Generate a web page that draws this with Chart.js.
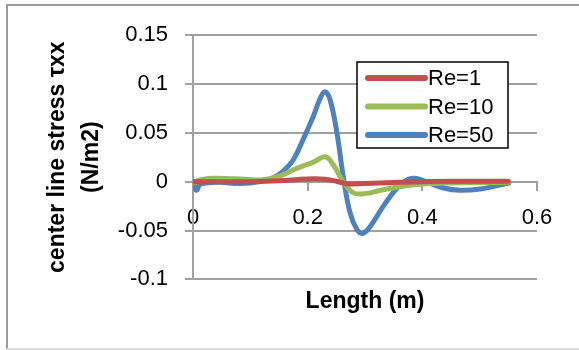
<!DOCTYPE html>
<html>
<head>
<meta charset="utf-8">
<script src="https://cdn.jsdelivr.net/npm/chart.js@4.4.1/dist/chart.umd.min.js"></script>
<style>
  html, body { margin: 0; padding: 0; background: #fff; }
  #wrap { position: relative; width: 579px; height: 350px; }
</style>
</head>
<body>
<div id="wrap"><canvas id="stressChart" width="579" height="350"></canvas></div>
<script>
// centre line stress along the channel, one curve per Reynolds number
const seriesNames = ["Re=1", "Re=10", "Re=50"];

const lengthRe1 = [0, 0.05, 0.1, 0.15, 0.2, 0.23, 0.25, 0.268, 0.3, 0.35, 0.4, 0.45, 0.55];
const stressRe1 = [0, 0, 0, 0.0008, 0.0027, 0.0025, 0.0004, -0.0022, -0.0018, -0.0008, 0, 0.0003, 0.0004];

const lengthRe10 = [0, 0.012, 0.035, 0.093, 0.122, 0.152, 0.181, 0.21, 0.231, 0.245, 0.262, 0.28, 0.303, 0.326, 0.385, 0.443, 0.551];
const stressRe10 = [-0.0013, 0.0017, 0.0034, 0.0024, 0.002, 0.006, 0.0136, 0.02, 0.0255, 0.017, 0, -0.0115, -0.012, -0.009, -0.0031, -0.0014, -0.0007];

const lengthRe50 = [0, 0.006, 0.012, 0.023, 0.047, 0.082, 0.117, 0.14, 0.157, 0.175, 0.192, 0.21, 0.221, 0.23, 0.239, 0.251, 0.262, 0.274, 0.286, 0.296, 0.309, 0.332, 0.356, 0.373, 0.387, 0.408, 0.437, 0.466, 0.501, 0.551];
const stressRe50 = [-0.0014, -0.0089, -0.003, -0.0014, -0.0007, -0.002, 0, 0.004, 0.0105, 0.0224, 0.043, 0.067, 0.084, 0.092, 0.084, 0.05, 0.0054, -0.032, -0.049, -0.053, -0.046, -0.025, -0.0065, 0.0017, 0.0034, -0.0004, -0.0065, -0.0089, -0.0075, -0.0014];

const xTicks = [0, 0.2, 0.4, 0.6];
const yTicks = [-0.1, -0.05, 0, 0.05, 0.1, 0.15];

const lineColors = ["#C0504D", "#9BBB59", "#4F81BD"];
const gridColor = "#a0a0a0";

function toPoints(xs, ys) {
  return xs.map((x, i) => ({ x: x, y: ys[i] }));
}

// plain numbers, no padded decimals (0.1, not 0.10)
function shortNum(v) {
  return String(+Number(v).toFixed(3));
}

Chart.defaults.font.family = "'Liberation Sans', Arial, sans-serif";
Chart.defaults.color = "#000";

// white background plus the outer frame of the chart
const frame = {
  id: "frame",
  beforeDraw(chart) {
    const ctx = chart.ctx;
    ctx.save();
    ctx.fillStyle = "#fff";
    ctx.fillRect(0, 0, chart.width, chart.height);
    ctx.lineWidth = 2;
    ctx.strokeStyle = "#9a9a9a";
    ctx.beginPath();
    ctx.moveTo(7, 349);
    ctx.lineTo(7, 5);
    ctx.lineTo(chart.width + 2, 5);
    ctx.stroke();
    ctx.strokeStyle = "#dcdcdc";
    ctx.beginPath();
    ctx.moveTo(7, 349);
    ctx.lineTo(chart.width + 2, 349);
    ctx.stroke();
    ctx.restore();
  }
};

// boxed legend sitting inside the plot
const boxLegend = {
  id: "boxLegend",
  afterDatasetsDraw(chart, args, opts) {
    const ctx = chart.ctx;
    ctx.save();
    ctx.fillStyle = "#fff";
    ctx.fillRect(opts.left, opts.top, opts.width, opts.height);
    ctx.lineWidth = 1.5;
    ctx.strokeStyle = "#000";
    ctx.strokeRect(opts.left, opts.top, opts.width, opts.height);
    ctx.font = "22px 'Liberation Sans', Arial, sans-serif";
    ctx.textBaseline = "middle";
    chart.data.datasets.forEach((ds, i) => {
      const y = opts.top + opts.firstRow + i * opts.rowGap;
      ctx.strokeStyle = ds.borderColor;
      ctx.lineWidth = 6;
      ctx.lineCap = "round";
      ctx.beginPath();
      ctx.moveTo(opts.left + 11, y);
      ctx.lineTo(opts.left + 68, y);
      ctx.stroke();
      ctx.fillStyle = "#000";
      ctx.fillText(ds.label, opts.left + 71, y + 1);
    });
    ctx.restore();
  }
};

const ctx = document.getElementById("stressChart").getContext("2d");
new Chart(ctx, {
  type: "line",
  data: {
    datasets: [
      { label: seriesNames[0], data: toPoints(lengthRe1, stressRe1), borderColor: lineColors[0] },
      { label: seriesNames[1], data: toPoints(lengthRe10, stressRe10), borderColor: lineColors[1] },
      { label: seriesNames[2], data: toPoints(lengthRe50, stressRe50), borderColor: lineColors[2] }
    ]
  },
  options: {
    responsive: false,
    animation: false,
    layout: { padding: { left: 0, right: 42, top: 35, bottom: 25 } },
    elements: {
      point: { radius: 0 },
      line: { borderWidth: 5, tension: 0.4, fill: false, borderCapStyle: "round", borderJoinStyle: "round" }
    },
    plugins: {
      legend: { display: false },
      tooltip: { enabled: false },
      title: {
        display: true,
        fullSize: false,
        position: "bottom",
        text: "Length (m)",
        font: { size: 23, weight: "bold" },
        padding: { top: 8, bottom: 10 }
      },
      boxLegend: { left: 357, top: 62, width: 151, height: 86, firstRow: 16, rowGap: 28.5 }
    },
    scales: {
      x: {
        type: "linear",
        position: { y: 0 },
        min: 0,
        max: 0.6,
        afterBuildTicks: (scale) => { scale.ticks = xTicks.map(v => ({ value: v })); },
        ticks: { font: { size: 22 }, padding: 15, maxRotation: 0, callback: shortNum },
        grid: { drawOnChartArea: false, drawTicks: true, tickLength: 8, color: gridColor, lineWidth: 2 },
        border: { display: true, color: gridColor, width: 2 }
      },
      y: {
        min: -0.1,
        max: 0.15,
        afterBuildTicks: (scale) => { scale.ticks = yTicks.map(v => ({ value: v })); },
        afterFit: (scale) => { scale.width = 193; },
        ticks: { font: { size: 22 }, padding: 17, callback: shortNum },
        grid: { color: gridColor, lineWidth: 2, tickLength: 8 },
        border: { display: true, color: gridColor, width: 2 },
        title: {
          display: true,
          text: ["center line stress τxx", "(N/m2)"],
          font: { size: 23, weight: "bold", lineHeight: 1.5 },
          padding: { top: 40, bottom: 0 }
        }
      }
    }
  },
  plugins: [frame, boxLegend]
});
</script>
</body>
</html>
